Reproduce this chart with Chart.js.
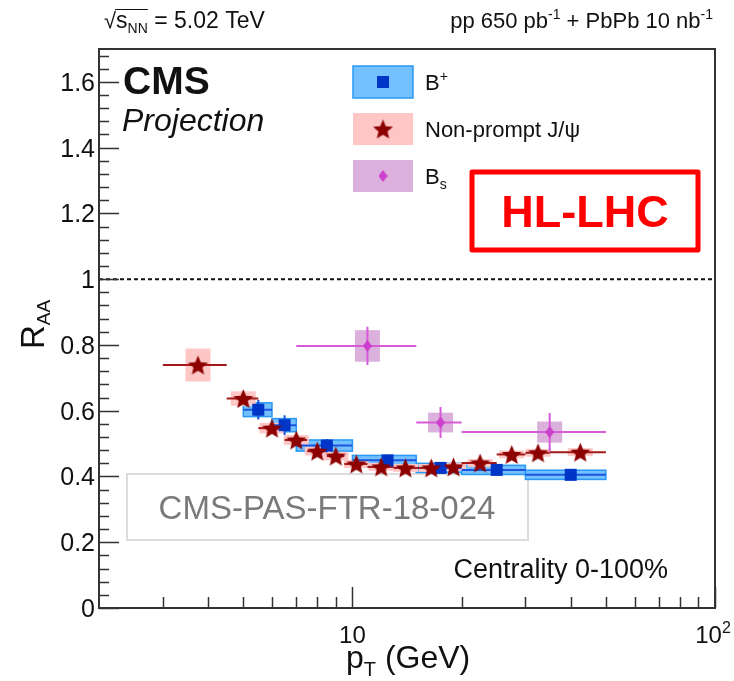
<!DOCTYPE html>
<html>
<head>
<meta charset="utf-8">
<script src="https://cdn.jsdelivr.net/npm/chart.js@4.4.1/dist/chart.umd.min.js"></script>
<style>
  body { margin: 0; background: #fff; }
  canvas { display: block; }
</style>
</head>
<body>
<canvas id="raaChart" width="734" height="681"></canvas>
<script>
// B+ : bins in pT (GeV), RAA, stat (bar) and syst (box) half heights
const bplusPt = [5.5, 6.5, 8.5, 12.5, 17.5, 25, 40];
const bplusLow = [5, 6, 7, 10, 15, 20, 30];
const bplusHigh = [6, 7, 10, 15, 20, 30, 50];
const bplusRaa = [0.603, 0.556, 0.494, 0.449, 0.426, 0.42, 0.405];
const bplusStat = [0.03, 0.03, 0.02, 0.015, 0.015, 0.015, 0.018];
const bplusSyst = [0.021, 0.02, 0.017, 0.015, 0.014, 0.014, 0.014];

// Non-prompt J/psi
const jpsiPt = [3.75, 5, 6, 7, 8, 9, 10.25, 12, 14, 16.5, 19, 22.5, 27.5, 32.5, 42.5];
const jpsiLow = [3, 4.5, 5.5, 6.5, 7.5, 8.5, 9.5, 11, 13, 15, 18, 20, 25, 30, 35];
const jpsiHigh = [4.5, 5.5, 6.5, 7.5, 8.5, 9.5, 11, 13, 15, 18, 20, 25, 30, 35, 50];
const jpsiRaa = [0.739, 0.637, 0.547, 0.511, 0.477, 0.462, 0.438, 0.429, 0.426, 0.426, 0.429, 0.441, 0.467, 0.472, 0.474];
const jpsiSyst = [0.05, 0.022, 0.016, 0.015, 0.013, 0.013, 0.012, 0.012, 0.012, 0.012, 0.012, 0.012, 0.012, 0.012, 0.012];

// Bs
const bsPt = [11, 17.5, 35];
const bsLow = [7, 15, 20];
const bsHigh = [15, 20, 50];
const bsRaa = [0.797, 0.564, 0.535];
const bsStat = [0.058, 0.047, 0.058];
const bsSyst = [0.048, 0.03, 0.032];

// axes
const xMin = 2, xMax = 100;
const yMin = 0, yMax = 1.7;
const xMajorTicks = [10, 100];
const xTickLabels = ['10', '10^2'];
const xMinorTicks = [3, 4, 5, 6, 7, 8, 9, 20, 30, 40, 50, 60, 70, 80, 90];
const yMajorTicks = [0, 0.2, 0.4, 0.6, 0.8, 1, 1.2, 1.4, 1.6];
const yTickLabels = ['0', '0.2', '0.4', '0.6', '0.8', '1', '1.2', '1.4', '1.6'];
const yMinorStep = 0.04;

const FONT = '"Liberation Sans", Arial, Helvetica, sans-serif';
const font = (size, weight = 'normal', style = 'normal') => `${style} ${weight} ${size}px ${FONT}`;

// draw text made of pieces (sub/superscripts)
function drawRich(ctx, parts, x, y, align) {
  let total = 0;
  parts.forEach(p => {
    ctx.font = font(p.size, p.weight, p.style);
    p.w = ctx.measureText(p.text).width;
    total += p.w;
  });
  let cx = align === 'right' ? x - total : align === 'center' ? x - total / 2 : x;
  ctx.textAlign = 'left';
  ctx.textBaseline = 'alphabetic';
  parts.forEach(p => {
    ctx.font = font(p.size, p.weight, p.style);
    ctx.fillText(p.text, cx, y + (p.dy || 0));
    cx += p.w;
  });
  return total;
}

// marker images
function makeStar(r, color) {
  const c = document.createElement('canvas');
  c.width = c.height = Math.ceil(r * 2 + 2);
  const g = c.getContext('2d');
  const cx = c.width / 2, cy = c.height / 2 + 1;
  g.beginPath();
  for (let i = 0; i < 10; i++) {
    const rad = i % 2 === 0 ? r : r * 0.45;
    const a = -Math.PI / 2 + i * Math.PI / 5;
    const px = cx + rad * Math.cos(a), py = cy + rad * Math.sin(a);
    if (i === 0) g.moveTo(px, py); else g.lineTo(px, py);
  }
  g.closePath();
  g.fillStyle = color;
  g.fill();
  return c;
}
function makeDiamond(w, h, color) {
  const c = document.createElement('canvas');
  c.width = w; c.height = h;
  const g = c.getContext('2d');
  g.beginPath();
  g.moveTo(w / 2, 0); g.lineTo(w, h / 2); g.lineTo(w / 2, h); g.lineTo(0, h / 2);
  g.closePath();
  g.fillStyle = color;
  g.fill();
  return c;
}

const blueMarker = '#0036c8';
const blueBox = '#74c0ff';
const blueEdge = '#2a98f2';
const blueBar = '#1a55dd';
const redMarker = '#8c0000';
const redBox = '#ffc6c6';
const redBar = '#a41818';
const bsMarker = '#cc3fcc';
const bsBox = '#dcb0dc';
const bsBar = '#d85ad8';

const starImg = makeStar(10.5, redMarker);
const diamondImg = makeDiamond(9, 12, bsMarker);
const narrowBoxHalf = 12.5; // px, half width of fixed-width syst boxes

const toPoints = (xs, ys) => xs.map((x, i) => ({x: x, y: ys[i]}));

const drawErrors = {
  id: 'drawErrors',
  beforeDatasetsDraw(chart) {
    const ctx = chart.ctx;
    const xs = chart.scales.x, ys = chart.scales.y;
    ctx.save();

    // reference box sits under the data
    ctx.fillStyle = '#fff';
    ctx.fillRect(127, 474, 401, 66);
    ctx.strokeStyle = '#dcdcdc';
    ctx.lineWidth = 2;
    ctx.strokeRect(127, 474, 401, 66);
    ctx.fillStyle = '#7a7a7a';
    drawRich(ctx, [{text: 'CMS-PAS-FTR-18-024', size: 33}], 327, 519, 'center');

    // B+ boxes (full bin)
    bplusPt.forEach((pt, i) => {
      const x1 = xs.getPixelForValue(bplusLow[i]), x2 = xs.getPixelForValue(bplusHigh[i]);
      const y1 = ys.getPixelForValue(bplusRaa[i] + bplusSyst[i]), y2 = ys.getPixelForValue(bplusRaa[i] - bplusSyst[i]);
      ctx.fillStyle = blueBox;
      ctx.fillRect(x1, y1, x2 - x1, y2 - y1);
      ctx.strokeStyle = blueEdge;
      ctx.lineWidth = 1.5;
      ctx.strokeRect(x1, y1, x2 - x1, y2 - y1);
    });
    // Bs and J/psi boxes (fixed width)
    const narrowBoxes = (pts, raa, syst, color) => {
      pts.forEach((pt, i) => {
        const xc = xs.getPixelForValue(pt);
        const y1 = ys.getPixelForValue(raa[i] + syst[i]), y2 = ys.getPixelForValue(raa[i] - syst[i]);
        ctx.fillStyle = color;
        ctx.fillRect(xc - narrowBoxHalf, y1, narrowBoxHalf * 2, y2 - y1);
      });
    };
    narrowBoxes(bsPt, bsRaa, bsSyst, bsBox);
    narrowBoxes(jpsiPt, jpsiRaa, jpsiSyst, redBox);

    const bars = (pts, low, high, raa, stat, color) => {
      ctx.strokeStyle = color;
      ctx.lineWidth = 2;
      pts.forEach((pt, i) => {
        const y = ys.getPixelForValue(raa[i]);
        ctx.beginPath();
        ctx.moveTo(xs.getPixelForValue(low[i]), y);
        ctx.lineTo(xs.getPixelForValue(high[i]), y);
        if (stat) {
          const xc = xs.getPixelForValue(pt);
          ctx.moveTo(xc, ys.getPixelForValue(raa[i] + stat[i]));
          ctx.lineTo(xc, ys.getPixelForValue(raa[i] - stat[i]));
        }
        ctx.stroke();
      });
    };
    bars(bplusPt, bplusLow, bplusHigh, bplusRaa, bplusStat, blueBar);
    bars(bsPt, bsLow, bsHigh, bsRaa, bsStat, bsBar);
    bars(jpsiPt, jpsiLow, jpsiHigh, jpsiRaa, null, redBar);
    ctx.restore();
  }
};

const decorations = {
  id: 'decorations',
  beforeDraw(chart) {
    const ctx = chart.ctx;
    const ys = chart.scales.y;
    const a = chart.chartArea;
    ctx.save();
    // dashed line at RAA = 1
    const y1 = ys.getPixelForValue(1);
    ctx.strokeStyle = '#111';
    ctx.lineWidth = 2;
    ctx.setLineDash([4, 3]);
    ctx.beginPath();
    ctx.moveTo(a.left, y1);
    ctx.lineTo(a.right, y1);
    ctx.stroke();
    ctx.restore();
  },
  afterDatasetsDraw(chart) {
    const ctx = chart.ctx;
    const xs = chart.scales.x, ys = chart.scales.y;
    const a = chart.chartArea;
    ctx.save();

    // frame
    ctx.strokeStyle = '#333';
    ctx.lineWidth = 2;
    ctx.strokeRect(a.left, a.top, a.right - a.left, a.bottom - a.top);

    // y ticks (inward)
    ctx.beginPath();
    for (let v = yMin; v <= yMax + 1e-9; v += yMinorStep) {
      const y = Math.round(ys.getPixelForValue(v)) + 0.5;
      ctx.moveTo(a.left, y);
      ctx.lineTo(a.left + 10, y);
    }
    yMajorTicks.forEach(v => {
      const y = Math.round(ys.getPixelForValue(v)) + 0.5;
      ctx.moveTo(a.left, y);
      ctx.lineTo(a.left + 20, y);
    });
    // x ticks (inward)
    xMinorTicks.forEach(v => {
      const x = Math.round(xs.getPixelForValue(v)) + 0.5;
      ctx.moveTo(x, a.bottom);
      ctx.lineTo(x, a.bottom - 11);
    });
    xMajorTicks.forEach(v => {
      const x = Math.round(xs.getPixelForValue(v)) + 0.5;
      ctx.moveTo(x, a.bottom);
      ctx.lineTo(x, a.bottom - 21);
    });
    ctx.lineWidth = 1.5;
    ctx.stroke();

    // tick labels
    ctx.fillStyle = '#111';
    yMajorTicks.forEach((v, i) => {
      drawRich(ctx, [{text: yTickLabels[i], size: 25}], a.left - 4, ys.getPixelForValue(v) + 9, 'right');
    });
    xMajorTicks.forEach((v, i) => {
      const [base, exp] = xTickLabels[i].split('^');
      const parts = [{text: base, size: 24}];
      if (exp) parts.push({text: exp, size: 16, dy: -10});
      drawRich(ctx, parts, xs.getPixelForValue(v) - (exp ? 2 : 0), 643, 'center');
    });

    // axis titles
    drawRich(ctx, [
      {text: 'p', size: 32},
      {text: 'T', size: 20, dy: 8},
      {text: ' (GeV)', size: 32}
    ], 346, 668, 'left');
    ctx.save();
    ctx.translate(44, 349);
    ctx.rotate(-Math.PI / 2);
    drawRich(ctx, [{text: 'R', size: 33}, {text: 'AA', size: 19, dy: 6}], 0, 0, 'left');
    ctx.restore();

    // header
    ctx.fillStyle = '#111';
    const rootW = drawRich(ctx, [{text: '\u221A', size: 22}], 104, 28, 'left');
    const sx = 104 + rootW;
    const sW = drawRich(ctx, [{text: 's', size: 23}, {text: 'NN', size: 14, dy: 5}], sx, 28, 'left');
    ctx.strokeStyle = '#111';
    ctx.lineWidth = 1.2;
    ctx.beginPath();
    ctx.moveTo(sx - 1, 9.5);
    ctx.lineTo(sx + sW, 9.5);
    ctx.stroke();
    drawRich(ctx, [{text: ' = 5.02 TeV', size: 23}], sx + sW, 28, 'left');
    drawRich(ctx, [
      {text: 'pp 650 pb', size: 22},
      {text: '-1', size: 14, dy: -9},
      {text: ' + PbPb 10 nb', size: 22},
      {text: '-1', size: 14, dy: -9}
    ], 713, 28, 'right');

    // CMS label
    drawRich(ctx, [{text: 'CMS', size: 39, weight: 'bold'}], 123, 94, 'left');
    drawRich(ctx, [{text: 'Projection', size: 32, style: 'italic'}], 122, 131, 'left');

    // legend
    const legX = 353, legW = 60, legH = 32;
    const legY = [82, 129, 176];
    ctx.fillStyle = blueBox;
    ctx.fillRect(legX, legY[0] - legH / 2, legW, legH);
    ctx.strokeStyle = blueEdge;
    ctx.lineWidth = 1.5;
    ctx.strokeRect(legX, legY[0] - legH / 2, legW, legH);
    ctx.fillStyle = blueMarker;
    ctx.fillRect(legX + legW / 2 - 6, legY[0] - 6, 12, 12);
    ctx.fillStyle = redBox;
    ctx.fillRect(legX, legY[1] - legH / 2, legW, legH);
    ctx.drawImage(starImg, legX + legW / 2 - starImg.width / 2, legY[1] - starImg.height / 2);
    ctx.fillStyle = bsBox;
    ctx.fillRect(legX, legY[2] - legH / 2, legW, legH);
    ctx.drawImage(diamondImg, legX + legW / 2 - diamondImg.width / 2, legY[2] - diamondImg.height / 2);

    ctx.fillStyle = '#111';
    drawRich(ctx, [{text: 'B', size: 22}, {text: '+', size: 14, dy: -9}], 425, legY[0] + 8, 'left');
    drawRich(ctx, [{text: 'Non-prompt J/\u03C8', size: 22}], 425, legY[1] + 8, 'left');
    drawRich(ctx, [{text: 'B', size: 22}, {text: 's', size: 14, dy: 5}], 425, legY[2] + 8, 'left');

    // HL-LHC box
    ctx.strokeStyle = '#ff0000';
    ctx.lineWidth = 5;
    ctx.lineJoin = 'round';
    ctx.strokeRect(472, 172, 226, 78);
    ctx.fillStyle = '#ff0000';
    drawRich(ctx, [{text: 'HL-LHC', size: 45, weight: 'bold'}], 585, 227, 'center');

    // centrality
    ctx.fillStyle = '#111';
    drawRich(ctx, [{text: 'Centrality 0-100%', size: 27}], 668, 578, 'right');

    ctx.restore();
  }
};

new Chart(document.getElementById('raaChart'), {
  type: 'scatter',
  data: {
    datasets: [
      {
        label: 'B+',
        data: toPoints(bplusPt, bplusRaa),
        pointStyle: 'rect',
        pointRadius: 8.5,
        backgroundColor: blueMarker,
        borderColor: blueMarker,
        borderWidth: 0,
        order: 3
      },
      {
        label: 'Bs',
        data: toPoints(bsPt, bsRaa),
        pointStyle: diamondImg,
        order: 2
      },
      {
        label: 'Non-prompt J/psi',
        data: toPoints(jpsiPt, jpsiRaa),
        pointStyle: starImg,
        order: 1
      }
    ]
  },
  options: {
    responsive: false,
    animation: false,
    devicePixelRatio: 1,
    layout: { padding: { left: 99, right: 19, top: 49, bottom: 73 } },
    plugins: {
      legend: { display: false },
      tooltip: { enabled: false }
    },
    scales: {
      x: { type: 'logarithmic', min: xMin, max: xMax, display: false },
      y: { type: 'linear', min: yMin, max: yMax, display: false }
    }
  },
  plugins: [drawErrors, decorations]
});
</script>
</body>
</html>
